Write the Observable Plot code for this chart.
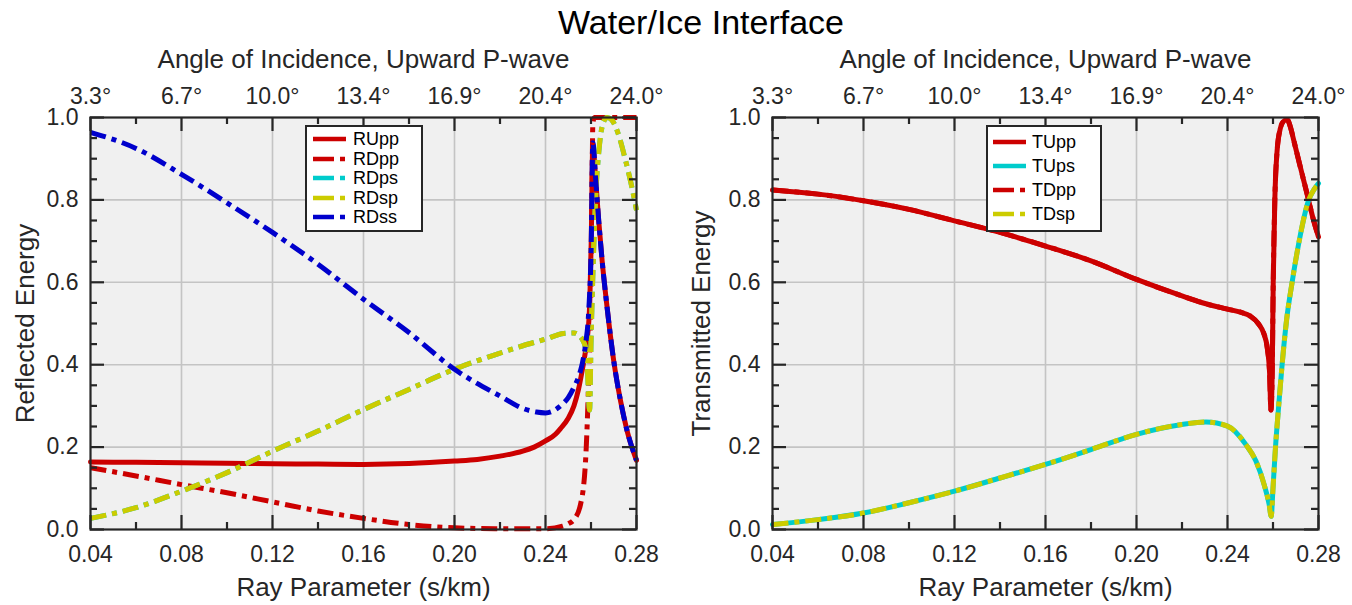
<!DOCTYPE html>
<html><head><meta charset="utf-8">
<script src="https://cdn.jsdelivr.net/npm/d3@7"></script>
<script src="https://cdn.jsdelivr.net/npm/@observablehq/plot@0.6"></script>
<style>
body{margin:0;background:#fff;font-family:"Liberation Sans",Arial,sans-serif;}
#fig{position:relative;width:1352px;height:605px;overflow:hidden;background:#fff;}
#title{position:absolute;left:25px;width:1352px;top:5px;text-align:center;font-size:34px;line-height:34px;color:#000;}
.panel{position:absolute;top:0;}
.legend{position:absolute;background:#fff;border:2px solid #262626;box-sizing:border-box;font-size:18px;color:#000;}
.legend .row{position:absolute;left:0;height:20px;display:flex;align-items:center;}
.legend svg{display:block;}
</style></head>
<body>
<div id="fig">
  <div id="title">Water/Ice Interface</div>
</div>
<script>
// ---------- axis ticks / labels ----------
const xMajor = [0.04, 0.08, 0.12, 0.16, 0.20, 0.24, 0.28];
const xMinor = [0.06, 0.10, 0.14, 0.18, 0.22, 0.26];
const yMajor = [0, 0.2, 0.4, 0.6, 0.8, 1.0];
const yMinor = [0.05, 0.1, 0.15, 0.25, 0.3, 0.35, 0.45, 0.5, 0.55, 0.65, 0.7, 0.75, 0.85, 0.9, 0.95];
const xTickLabels = ["0.04", "0.08", "0.12", "0.16", "0.20", "0.24", "0.28"];
const angleLabels = ["3.3°", "6.7°", "10.0°", "13.4°", "16.9°", "20.4°", "24.0°"];
const yTickLabels = ["0.0", "0.2", "0.4", "0.6", "0.8", "1.0"];

// ---------- left panel: reflected energy ----------
const RUpp_p = [0.04,0.06,0.08,0.10,0.12,0.14,0.16,0.18,0.20,0.21,0.22,0.23,0.235,0.24,0.2445,0.2466,0.25,0.2525,0.2545,0.2561,0.2575,0.2585,0.2595,0.2601,0.2608,0.262,0.2634,0.2649,0.2671,0.27,0.273,0.2759,0.2796,0.28];
const RUpp   = [0.164,0.163,0.162,0.161,0.1595,0.159,0.158,0.160,0.166,0.170,0.178,0.19,0.20,0.215,0.232,0.245,0.27,0.30,0.34,0.385,0.43,0.47,0.56,0.70,0.935,0.854,0.749,0.652,0.538,0.409,0.312,0.239,0.174,0.168];

const RDpp_p = [0.04,0.06,0.08,0.10,0.12,0.14,0.16,0.18,0.20,0.22,0.24,0.2475,0.25,0.2525,0.2554,0.2576,0.259,0.2601,0.2605,0.2608,0.2615,0.27,0.28];
const RDpp   = [0.150,0.130,0.109,0.089,0.067,0.045,0.027,0.012,0.004,0.002,0.002,0.008,0.014,0.024,0.061,0.166,0.368,0.611,0.854,0.984,1.0,1.0,1.0];

const RDsp_p = [0.04,0.06,0.08,0.10,0.12,0.14,0.16,0.18,0.20,0.22,0.23,0.24,0.248,0.2525,0.2561,0.258,0.2594,0.2600,0.2610,0.2620,0.2635,0.2650,0.2670,0.2690,0.2720,0.2750,0.2780,0.2800];
const RDsp   = [0.027,0.053,0.093,0.138,0.190,0.239,0.291,0.340,0.389,0.428,0.446,0.462,0.476,0.477,0.462,0.43,0.29,0.45,0.65,0.80,0.92,0.98,1.0,0.995,0.96,0.90,0.83,0.775];
const RDps_p = RDsp_p;
const RDps   = RDsp;

const RDss_p = [0.04,0.06,0.08,0.10,0.12,0.14,0.16,0.18,0.20,0.22,0.2305,0.236,0.24,0.2435,0.2466,0.25,0.2525,0.2545,0.2561,0.2576,0.259,0.2601,0.2608,0.262,0.2634,0.2649,0.2671,0.27,0.273,0.2759,0.2796,0.28];
const RDss   = [0.964,0.925,0.862,0.793,0.721,0.644,0.559,0.478,0.389,0.324,0.293,0.285,0.283,0.288,0.30,0.32,0.345,0.37,0.401,0.449,0.530,0.692,0.939,0.854,0.749,0.652,0.538,0.409,0.312,0.239,0.174,0.168];

// ---------- right panel: transmitted energy ----------
const TUpp_p = [0.04,0.06,0.08,0.10,0.12,0.14,0.16,0.18,0.20,0.22,0.2305,0.24,0.246,0.25,0.2535,0.256,0.2575,0.2585,0.2591,0.2597,0.2601,0.2608,0.2618,0.2633,0.2645,0.2662,0.2680,0.2691,0.2721,0.2750,0.2779,0.2800];
const TUpp   = [0.824,0.814,0.798,0.777,0.749,0.721,0.688,0.652,0.607,0.567,0.548,0.535,0.527,0.518,0.50,0.475,0.44,0.38,0.29,0.40,0.60,0.80,0.919,0.975,0.99,0.995,0.97,0.945,0.878,0.814,0.749,0.71];
const TDpp_p = TUpp_p;
const TDpp   = TUpp;

const TDsp_p = [0.04,0.06,0.08,0.10,0.12,0.14,0.16,0.18,0.20,0.22,0.2305,0.24,0.2481,0.2525,0.2561,0.2583,0.2592,0.2600,0.2611,0.2625,0.2640,0.2660,0.2684,0.2715,0.2757,0.2780,0.2800];
const TDsp   = [0.012,0.024,0.040,0.065,0.093,0.125,0.158,0.194,0.231,0.255,0.261,0.251,0.206,0.166,0.109,0.061,0.032,0.10,0.20,0.30,0.40,0.51,0.60,0.70,0.80,0.825,0.84];
const TUps_p = TDsp_p;
const TUps   = TDsp;

// ---------- styles ----------
const RED = "#cc0000", CYAN = "#00cccc", YEL = "#cccc00", BLUE = "#0000cc";
const AX = "#262626", GRID = "#c4c4c4", BG = "#f0f0f0";
const DASHDOT = "16,6,5,6";
const FONT = "Liberation Sans, Arial, Helvetica, sans-serif";
const H = 605, MT = 117, MB = 76, IH = H - MT - MB, IW = 546;

function series(p, v, stroke, dash) {
  return Plot.line(v, {x: p, y: v, stroke, strokeWidth: 5, strokeDasharray: dash, curve: "monotone-x", strokeLinecap: dash ? "butt" : "round", strokeLinejoin: "round"});
}

function panel(ml, mr, yLabel, lines) {
  return Plot.plot({
    width: ml + IW + mr, height: H,
    marginTop: MT, marginBottom: MB, marginLeft: ml, marginRight: mr,
    x: {domain: [0.04, 0.28], axis: null},
    y: {domain: [0, 1], axis: null},
    style: {fontFamily: FONT, background: "transparent", overflow: "visible", color: AX},
    marks: [
      Plot.frame({fill: BG, stroke: null}),
      Plot.ruleX(xMajor.slice(1, -1), {stroke: GRID, strokeWidth: 1.6}),
      Plot.ruleY(yMajor.slice(1, -1), {stroke: GRID, strokeWidth: 1.6}),
      ...lines,
      Plot.frame({stroke: AX, strokeWidth: 2.2}),
      // inward ticks
      Plot.ruleX(xMajor, {insetTop: IH - 14, stroke: AX, strokeWidth: 2.2}),
      Plot.ruleX(xMajor, {insetBottom: IH - 14, stroke: AX, strokeWidth: 2.2}),
      Plot.ruleX(xMinor, {insetTop: IH - 7, stroke: AX, strokeWidth: 2.2}),
      Plot.ruleX(xMinor, {insetBottom: IH - 7, stroke: AX, strokeWidth: 2.2}),
      Plot.ruleY(yMajor, {insetRight: IW - 14, stroke: AX, strokeWidth: 2.2}),
      Plot.ruleY(yMajor, {insetLeft: IW - 14, stroke: AX, strokeWidth: 2.2}),
      Plot.ruleY(yMinor, {insetRight: IW - 7, stroke: AX, strokeWidth: 2.2}),
      Plot.ruleY(yMinor, {insetLeft: IW - 7, stroke: AX, strokeWidth: 2.2}),
      // tick labels
      Plot.text(xMajor, {x: d => d, frameAnchor: "bottom", lineAnchor: "middle", dy: 25, text: (d, i) => xTickLabels[i], fontSize: 23, fill: AX}),
      Plot.text(xMajor, {x: d => d, frameAnchor: "top", lineAnchor: "middle", dy: -21, text: (d, i) => angleLabels[i], fontSize: 23, fill: AX}),
      Plot.text(yMajor, {y: d => d, frameAnchor: "left", lineAnchor: "middle", dx: -12, textAnchor: "end", text: (d, i) => yTickLabels[i], fontSize: 23, fill: AX}),
      // axis labels
      Plot.text(["Ray Parameter (s/km)"], {frameAnchor: "bottom", lineAnchor: "middle", dy: 58, fontSize: 26, fill: AX}),
      Plot.text(["Angle of Incidence, Upward P-wave"], {frameAnchor: "top", lineAnchor: "middle", dy: -58, fontSize: 26, fill: AX}),
      Plot.text([yLabel], {frameAnchor: "left", lineAnchor: "middle", textAnchor: "middle", dx: -(ml - 25), rotate: -90, fontSize: 26, fill: AX})
    ]
  });
}

const left = panel(90, 40, "Reflected Energy", [
  series(RUpp_p, RUpp, RED, null),
  series(RDpp_p, RDpp, RED, DASHDOT),
  series(RDps_p, RDps, CYAN, DASHDOT),
  series(RDsp_p, RDsp, YEL, DASHDOT),
  series(RDss_p, RDss, BLUE, DASHDOT)
]);
const right = panel(96, 34, "Transmitted Energy", [
  series(TUpp_p, TUpp, RED, null),
  series(TUps_p, TUps, CYAN, null),
  series(TDpp_p, TDpp, RED, DASHDOT),
  series(TDsp_p, TDsp, YEL, DASHDOT)
]);

const fig = document.getElementById("fig");
left.classList.add("panel"); left.style.left = "0px";
right.classList.add("panel"); right.style.left = "676px";
fig.appendChild(left);
fig.appendChild(right);

// ---------- legends ----------
const leftLegend = [["RUpp", RED, null], ["RDpp", RED, "21,6,5,6"], ["RDps", CYAN, "21,6,5,6"], ["RDsp", YEL, "21,6,5,6"], ["RDss", BLUE, "21,6,5,6"]];
const rightLegend = [["TUpp", RED, null], ["TUps", CYAN, null], ["TDpp", RED, "21,6,5,6"], ["TDsp", YEL, "21,6,5,6"]];

function legend(items, box, rowY, sampleX, textX) {
  const div = document.createElement("div");
  div.className = "legend";
  Object.assign(div.style, {left: box[0] + "px", top: box[1] + "px", width: (box[2] - box[0]) + "px", height: (box[3] - box[1]) + "px"});
  items.forEach(([name, color, dash], i) => {
    const row = document.createElement("div");
    row.className = "row";
    row.style.top = (rowY[i] - box[1] - 2 - 10) + "px";
    row.style.left = (sampleX - box[0] - 2) + "px";
    const ns = "http://www.w3.org/2000/svg";
    const svg = document.createElementNS(ns, "svg");
    svg.setAttribute("width", 34); svg.setAttribute("height", 20);
    const ln = document.createElementNS(ns, "line");
    ln.setAttribute("x1", 0); ln.setAttribute("x2", 33); ln.setAttribute("y1", 10); ln.setAttribute("y2", 10);
    ln.setAttribute("stroke", color); ln.setAttribute("stroke-width", 4.5);
    if (dash) ln.setAttribute("stroke-dasharray", dash);
    svg.appendChild(ln);
    row.appendChild(svg);
    const t = document.createElement("span");
    t.textContent = name;
    t.style.marginLeft = (textX - sampleX - 34) + "px";
    t.style.lineHeight = "20px";
    row.appendChild(t);
    div.appendChild(row);
  });
  fig.appendChild(div);
}
legend(leftLegend, [305, 125, 423, 232], [138.5, 158.5, 178, 197.5, 217], 313, 353);
legend(rightLegend, [986, 125, 1102, 232], [141.5, 166, 190, 214], 993, 1032);
</script>
</body></html>
